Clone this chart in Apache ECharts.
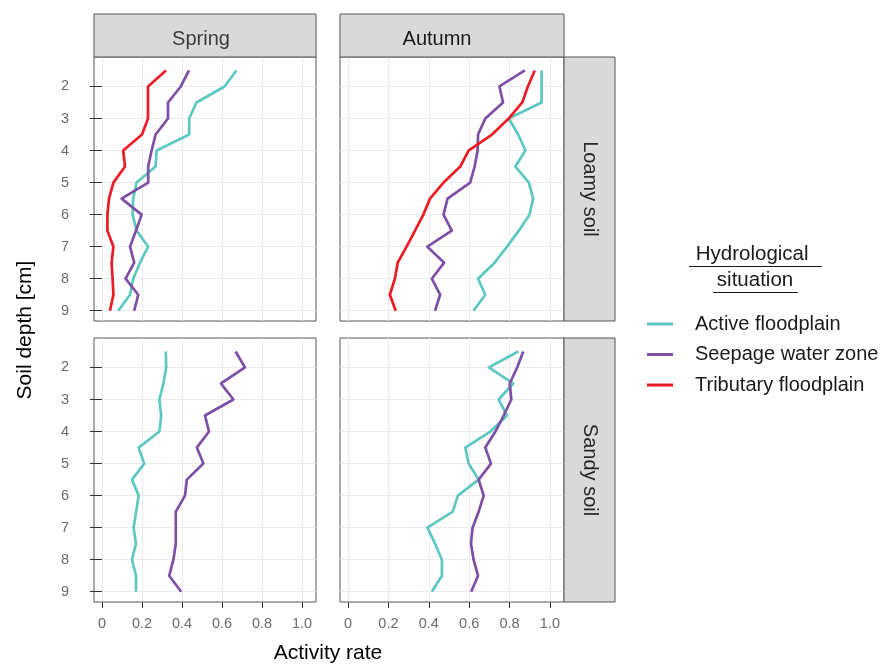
<!DOCTYPE html>
<html>
<head>
<meta charset="utf-8">
<script src="https://cdn.jsdelivr.net/npm/echarts@6/dist/echarts.min.js"></script>
<style>html,body{margin:0;padding:0;background:#fff}#c{width:884px;height:664px}</style>
</head>
<body>
<div id="c"></div>
<script>
const depth = [1.5,2,2.5,3,3.5,4,4.5,5,5.5,6,6.5,7,7.5,8,8.5,9];
const seasons = ['Spring','Autumn'];
const soils = ['Loamy soil','Sandy soil'];
const situations = ['Active floodplain','Seepage water zone','Tributary floodplain'];
const xTicks = [0,0.2,0.4,0.6,0.8,1.0];
const yTicks = [2,3,4,5,6,7,8,9];

const springLoamyActive    = [0.672,0.613,0.472,0.436,0.436,0.273,0.268,0.173,0.156,0.153,0.173,0.231,0.19,0.156,0.14,0.081];
const springLoamySeepage   = [0.435,0.394,0.33,0.33,0.268,0.248,0.231,0.231,0.098,0.198,0.17,0.14,0.161,0.118,0.181,0.161];
const springLoamyTributary = [0.32,0.23,0.23,0.23,0.20,0.106,0.115,0.057,0.035,0.027,0.027,0.057,0.048,0.053,0.057,0.04];
const autumnLoamyActive    = [0.959,0.959,0.959,0.796,0.843,0.879,0.829,0.896,0.917,0.899,0.846,0.788,0.726,0.644,0.68,0.622];
const autumnLoamySeepage   = [0.876,0.75,0.768,0.68,0.644,0.642,0.627,0.605,0.493,0.473,0.514,0.393,0.476,0.415,0.456,0.431];
const autumnLoamyTributary = [0.925,0.891,0.863,0.796,0.713,0.597,0.556,0.473,0.406,0.373,0.332,0.29,0.246,0.232,0.207,0.236];
const springSandyActive    = [0.319,0.321,0.307,0.287,0.296,0.287,0.183,0.211,0.15,0.183,0.171,0.158,0.17,0.15,0.17,0.17];
const springSandySeepage   = [0.668,0.715,0.595,0.657,0.515,0.535,0.474,0.507,0.424,0.415,0.369,0.369,0.369,0.357,0.336,0.396];
const autumnSandyActive    = [0.843,0.697,0.818,0.746,0.788,0.705,0.581,0.597,0.647,0.544,0.519,0.393,0.431,0.465,0.465,0.415];
const autumnSandySeepage   = [0.868,0.838,0.801,0.809,0.771,0.73,0.68,0.708,0.647,0.672,0.647,0.617,0.609,0.622,0.644,0.61];

const colors = {'Active floodplain':'#5cc8c0','Seepage water zone':'#7d4fa5','Tributary floodplain':'#ec1c24'};

const panels = [
  {grid:0, lines:[['Active floodplain',springLoamyActive],['Seepage water zone',springLoamySeepage],['Tributary floodplain',springLoamyTributary]]},
  {grid:1, lines:[['Active floodplain',autumnLoamyActive],['Seepage water zone',autumnLoamySeepage],['Tributary floodplain',autumnLoamyTributary]]},
  {grid:2, lines:[['Active floodplain',springSandyActive],['Seepage water zone',springSandySeepage]]},
  {grid:3, lines:[['Active floodplain',autumnSandyActive],['Seepage water zone',autumnSandySeepage]]}
];

const FONT = 'Liberation Sans, Arial, sans-serif';
const gridPos = [
  {left:94, top:57, width:222, height:264},
  {left:340, top:57, width:224, height:264},
  {left:94, top:338, width:222, height:264},
  {left:340, top:338, width:224, height:264}
];

const grids = gridPos.map(g => Object.assign({show:true, borderColor:'#555', borderWidth:1, backgroundColor:'#fff', containLabel:false}, g));

const xAxes = gridPos.map((g,i) => ({
  type:'value', gridIndex:i, min:-0.04, max:1.07, minInterval:0.2, maxInterval:0.2, position:'bottom',
  axisLine:{show:false},
  axisTick:{show:i>=2, inside:false, length:6, lineStyle:{color:'#333'}, customValues:xTicks},
  axisLabel:{show:i>=2, customValues:xTicks, margin:14, fontSize:14.5, color:'#6b6b6b', fontFamily:FONT,
    formatter: v => v===0 ? '0' : v.toFixed(1)},
  splitLine:{show:true, lineStyle:{color:'#ebebeb', width:1}}
}));

const yAxes = gridPos.map((g,i) => ({
  type:'value', gridIndex:i, inverse:true, min:1.08, max:9.32, minInterval:1, maxInterval:1, position:'left',
  axisLine:{show:false},
  axisTick:{show:i%2===0, inside:false, length:12, lineStyle:{color:'#333'}, customValues:yTicks},
  axisLabel:{show:i%2===0, customValues:yTicks, margin:25, fontSize:14.5, color:'#6b6b6b', fontFamily:FONT},
  splitLine:{show:true, lineStyle:{color:'#ebebeb', width:1}}
}));

const series = [];
panels.forEach(p => {
  p.lines.forEach(([name, vals]) => {
    series.push({
      type:'line', name:name, xAxisIndex:p.grid, yAxisIndex:p.grid,
      data: vals.map((v,k) => [v, depth[k]]),
      symbol:'none', smooth:false, animation:false,
      lineStyle:{color:colors[name], width:2.7, join:'round', cap:'butt'},
      itemStyle:{color:colors[name]}
    });
  });
});

function strip(x,y,w,h,text,vertical,tx,ty,col){
  const els = [{type:'rect', shape:{x:x,y:y,width:w,height:h}, style:{fill:'#d9d9d9', stroke:'#555', lineWidth:1}, z:10}];
  els.push({type:'text', x:tx, y:ty, rotation: vertical ? -Math.PI/2 : 0,
    style:{text:text, fill:col, font:'20px '+FONT, textAlign:'center', textVerticalAlign:'middle'}, z:11});
  return els;
}

const graphics = [].concat(
  strip(94,14,222,43,seasons[0],false,201,39,'#3c3c3c'),
  strip(340,14,224,43,seasons[1],false,437,39,'#1a1a1a'),
  strip(564,57,51,264,soils[0],true,589.5,189,'#2a2a2a'),
  strip(564,338,51,264,soils[1],true,589.5,470,'#2a2a2a'),
  [
    {type:'text', x:25, y:330, rotation:Math.PI/2, style:{text:'Soil depth [cm]', fill:'#000', font:'21px '+FONT, textAlign:'center', textVerticalAlign:'middle'}},
    {type:'text', x:328, y:653, style:{text:'Activity rate', fill:'#000', font:'21px '+FONT, textAlign:'center', textVerticalAlign:'middle'}},
    {type:'text', x:755, y:254, style:{text:'Hydrological ', fill:'#1a1a1a', font:'20.5px '+FONT, textAlign:'center', textVerticalAlign:'middle'}},
    {type:'text', x:755, y:280, style:{text:'situation', fill:'#1a1a1a', font:'20.5px '+FONT, textAlign:'center', textVerticalAlign:'middle'}},
    {type:'line', shape:{x1:689, y1:266.5, x2:822, y2:266.5}, style:{stroke:'#1a1a1a', lineWidth:1}},
    {type:'line', shape:{x1:713, y1:292.5, x2:798, y2:292.5}, style:{stroke:'#1a1a1a', lineWidth:1}}
  ]
);

const chart = echarts.init(document.getElementById('c'), null, {renderer:'canvas'});
chart.setOption({
  animation:false,
  backgroundColor:'#fff',
  grid: grids,
  xAxis: xAxes,
  yAxis: yAxes,
  series: series,
  legend: {
    data: situations, orient:'vertical', left:647, top:312, padding:0,
    icon:'rect', itemWidth:26, itemHeight:3, itemGap:6.5,
    textStyle:{fontSize:20, color:'#1a1a1a', fontFamily:FONT, lineHeight:24, padding:[0,0,0,17]},
    selectedMode:false
  },
  graphic: graphics
});
</script>
</body>
</html>
